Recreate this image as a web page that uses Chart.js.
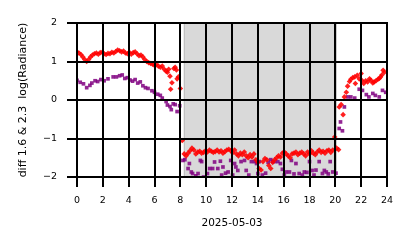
<!DOCTYPE html>
<html>
<head>
<meta charset="utf-8">
<script src="https://cdn.jsdelivr.net/npm/chart.js@4"></script>
<style>
  html, body { margin: 0; padding: 0; background: #fff; }
  canvas { display: block; }
</style>
</head>
<body>
<canvas id="chart" width="414" height="248"></canvas>
<script>
// hours of 2025-05-03 and diff of the two log radiances
var redHours = [0.0, 0.15, 0.3, 0.45, 0.6, 0.75, 0.9, 1.05, 1.2, 1.35, 1.5, 1.65, 1.8, 1.95, 2.1, 2.25, 2.4, 2.55, 2.7, 2.85,
  3.0, 3.15, 3.3, 3.45, 3.6, 3.75, 3.9, 4.05, 4.2, 4.35, 4.5, 4.65, 4.8, 4.95, 5.1, 5.25, 5.4, 5.55, 5.7, 5.85,
  6.0, 6.15, 6.3, 6.45, 6.6, 6.75, 6.9, 7.0, 7.1, 7.2, 7.25, 7.35, 7.5, 7.6, 7.7, 7.75, 7.85, 8.0, 8.15,
  8.3, 8.45, 8.6, 8.75, 8.9, 9.05, 9.2, 9.35, 9.5, 9.65, 9.8, 9.95, 10.1, 10.25, 10.4, 10.55, 10.7, 10.85,
  11.0, 11.15, 11.3, 11.45, 11.6, 11.75, 11.9, 12.05, 12.2, 12.35, 12.5, 12.65, 12.8, 12.95, 13.1, 13.25,
  13.4, 13.55, 13.7, 13.85, 14.0, 14.1, 14.25, 14.4, 14.55, 14.7, 14.85, 15.0, 15.15, 15.3, 15.45, 15.6,
  15.75, 15.9, 16.05, 16.2, 16.35, 16.5, 16.65, 16.8, 16.95, 17.1, 17.25, 17.4, 17.55, 17.7, 17.85, 18.0,
  18.15, 18.3, 18.45, 18.6, 18.75, 18.9, 19.05, 19.2, 19.35, 19.5, 19.65, 19.8, 19.95, 20.1, 20.25,
  20.3, 20.45, 20.6, 20.7, 20.85, 20.95, 21.1, 21.2, 21.35, 21.5, 21.55, 21.7, 21.85, 22.0, 22.05, 22.2,
  22.35, 22.5, 22.65, 22.75, 22.9, 23.0, 23.15, 23.3, 23.4, 23.5, 23.6, 23.7, 23.8]
var redValues = [1.25, 1.22, 1.18, 1.12, 1.05, 1.0, 1.05, 1.12, 1.17, 1.2, 1.22, 1.19, 1.23, 1.24, 1.2, 1.18, 1.21, 1.2, 1.24, 1.22,
  1.26, 1.3, 1.28, 1.25, 1.27, 1.22, 1.2, 1.24, 1.19, 1.23, 1.25, 1.2, 1.15, 1.17, 1.12, 1.05, 1.0, 0.97, 0.95, 0.93,
  0.9, 0.92, 0.88, 0.85, 0.88, 0.8, 0.75, 0.72, 0.8, 0.62, 0.28, 0.45, 0.82, 0.85, 0.78, 0.55, 0.6, 0.3, -1.05,
  -1.4, -1.45, -1.38, -1.32, -1.25, -1.3, -1.4, -1.35, -1.33, -1.38, -1.36, -1.32, -1.35, -1.3, -1.33, -1.36, -1.34, -1.3,
  -1.35, -1.32, -1.38, -1.34, -1.3, -1.28, -1.32, -1.37, -1.3, -1.4, -1.45, -1.38, -1.42, -1.35, -1.45, -1.5,
  -1.42, -1.48, -1.4, -1.55, -1.62, -1.78, -1.82, -1.6, -1.52, -1.55, -1.7, -1.78, -1.62, -1.55, -1.5, -1.45,
  -1.48, -1.38, -1.35, -1.4, -1.45, -1.5, -1.4, -1.38, -1.35, -1.42, -1.38, -1.35, -1.4, -1.45, -1.35, -1.4,
  -1.32, -1.38, -1.42, -1.35, -1.3, -1.36, -1.33, -1.38, -1.32, -1.3, -1.36, -1.3, -0.96, -1.25, -1.29,
  -0.18, -0.12, -0.38, 0.08, 0.2, 0.36, 0.48, 0.54, 0.58, 0.6, 0.43, 0.64, 0.55, 0.69, 0.51, 0.43,
  0.5, 0.47, 0.55, 0.51, 0.44, 0.47, 0.5, 0.54, 0.56, 0.6, 0.65, 0.77, 0.72]

var purpleHours = [0.0, 0.25, 0.5, 0.75, 1.0, 1.15, 1.4, 1.6, 1.85, 2.1, 2.4, 2.8, 3.05, 3.3, 3.5, 3.7, 3.9, 4.1, 4.3, 4.5,
  4.7, 4.9, 5.1, 5.3, 5.5, 5.8, 6.0, 6.25, 6.45, 6.6, 6.9, 7.0, 7.2, 7.3, 7.45, 7.6, 7.75, 7.95,
  8.2, 8.35, 8.6, 8.7, 8.85, 8.95, 9.2, 9.37, 9.55, 9.65, 9.8, 10.1, 10.27, 10.5, 10.65, 10.9, 11.1, 11.2,
  11.3, 11.5, 11.7, 11.9, 12.05, 12.2, 12.3, 12.45, 12.7, 12.97, 13.1, 13.3, 13.5, 13.75, 13.9, 14.0, 14.1,
  14.35, 14.6, 14.8, 15.0, 15.15, 15.3, 15.55, 15.75, 15.9, 16.05, 16.2, 16.45, 16.6, 16.8, 16.95, 17.2,
  17.45, 17.6, 17.8, 18.0, 18.2, 18.35, 18.5, 18.75, 19.0, 19.15, 19.3, 19.45, 19.6, 19.8, 20.05,
  20.3, 20.4, 20.55, 20.7, 20.95, 21.2, 21.5, 21.85, 22.1, 22.4, 22.6, 22.9, 23.1, 23.4, 23.65, 23.9]
var purpleValues = [0.51, 0.46, 0.42, 0.32, 0.38, 0.44, 0.5, 0.48, 0.53, 0.5, 0.55, 0.6, 0.6, 0.63, 0.65, 0.56, 0.58, 0.52, 0.49, 0.53,
  0.44, 0.47, 0.37, 0.32, 0.3, 0.24, 0.2, 0.15, 0.12, 0.05, -0.04, -0.13, -0.17, -0.25, -0.1, -0.12, -0.3, -0.15,
  -1.57, -1.55, -1.78, -1.65, -1.87, -1.91, -1.97, -1.91, -1.57, -1.6, -2.0, -1.91, -1.78, -1.78, -1.61, -1.78, -1.59, -1.95,
  -1.74, -1.9, -1.87, -1.57, -1.95, -1.65, -1.74, -1.83, -1.6, -1.57, -1.83, -1.95, -1.6, -1.6, -1.65, -1.91, -1.6,
  -1.95, -1.9, -1.62, -1.55, -1.6, -1.6, -1.6, -1.65, -1.8, -1.95, -1.87, -1.87, -1.57, -1.92, -1.65, -1.91,
  -1.95, -1.87, -1.88, -1.6, -1.83, -1.95, -1.82, -1.6, -1.91, -1.83, -1.87, -1.92, -1.6, -1.87, -1.9,
  -0.74, -0.57, -0.8, -0.18, 0.08, 0.08, 0.05, 0.28, 0.25, 0.14, 0.08, 0.17, 0.12, 0.08, 0.25, 0.2]

var xTicks = [0, 2, 4, 6, 8, 10, 12, 14, 16, 18, 20, 22, 24]
var yTicks = [-2, -1, 0, 1, 2]
var nightStart = 8.27
var nightEnd = 20.1

function pairs(xs, ys) {
  return xs.map((x, i) => ({ x: x, y: ys[i] }))
}

// grey band under everything, black grid over the points
var nightBand = {
  id: 'nightBand',
  beforeDraw(chart) {
    var ctx = chart.ctx
    var area = chart.chartArea
    var x0 = chart.scales.x.getPixelForValue(nightStart)
    var x1 = chart.scales.x.getPixelForValue(nightEnd)
    ctx.save()
    ctx.fillStyle = '#d9d9d9'
    ctx.fillRect(x0, area.top, x1 - x0, area.bottom - area.top)
    ctx.strokeStyle = '#bdbdbd'
    ctx.lineWidth = 1
    ctx.strokeRect(x0 + 0.5, area.top, x1 - x0 - 1, area.bottom - area.top)
    ctx.restore()
  },
  afterDatasetsDraw(chart) {
    var ctx = chart.ctx
    var area = chart.chartArea
    var xs = chart.scales.x, ys = chart.scales.y
    ctx.save()
    ctx.strokeStyle = '#000'
    ctx.lineWidth = 2
    ctx.beginPath()
    xs.ticks.forEach(t => {
      var px = Math.round(xs.getPixelForValue(t.value))
      ctx.moveTo(px, area.top - 1)
      ctx.lineTo(px, area.bottom + 1)
    })
    ys.ticks.forEach(t => {
      var py = Math.round(ys.getPixelForValue(t.value))
      ctx.moveTo(area.left - 1, py)
      ctx.lineTo(area.right + 1, py)
    })
    ctx.stroke()
    ctx.restore()
  }
}

var gridOpts = { drawOnChartArea: false, color: '#000', lineWidth: 2, tickLength: 10, tickWidth: 2, tickColor: '#000' }

var ctx = document.getElementById('chart')
var myChart = new Chart(ctx, {
  type: 'scatter',
  data: {
    datasets: [{
      label: 'red',
      data: pairs(redHours, redValues),
      pointStyle: 'rectRot',
      pointRadius: 2.8,
      borderWidth: 0,
      backgroundColor: 'rgba(255,0,0,0.88)'
    },
    {
      label: 'purple',
      data: pairs(purpleHours, purpleValues),
      pointStyle: 'rect',
      pointRadius: 2.6,
      borderWidth: 0,
      backgroundColor: 'rgba(128,0,128,0.85)'
    }]
  },
  options: {
    responsive: false,
    animation: false,
    devicePixelRatio: 1,
    layout: { padding: { left: 0, right: 27, top: 23, bottom: 18 } },
    plugins: { legend: { display: false }, tooltip: { enabled: false } },
    scales: {
      x: {
        type: 'linear',
        min: 0, max: 24,
        afterBuildTicks: (s) => { s.ticks = xTicks.map(v => ({ value: v })) },
        afterFit: (s) => { s.height = 53 },
        grid: gridOpts,
        border: { display: false },
        ticks: { color: '#000', padding: 8, font: { family: 'DejaVu Sans', size: 9.5 }, maxRotation: 0 },
        title: { display: true, text: '2025-05-03', color: '#000', padding: 0, font: { family: 'DejaVu Sans', size: 10.5 } }
      },
      y: {
        min: -2, max: 2,
        afterBuildTicks: (s) => { s.ticks = yTicks.map(v => ({ value: v })) },
        afterFit: (s) => { s.width = 77 },
        grid: gridOpts,
        border: { display: false },
        ticks: {
          color: '#000', padding: 10, font: { family: 'DejaVu Sans', size: 9.5 },
          callback: (v) => String(v).replace('-', '\u2212')
        },
        title: { display: true, text: 'diff 1.6 & 2.3  log(Radiance)', color: '#000', padding: { top: 17, bottom: 0 }, font: { family: 'DejaVu Sans', size: 11 } }
      }
    }
  },
  plugins: [nightBand]
});
</script>
</body>
</html>
